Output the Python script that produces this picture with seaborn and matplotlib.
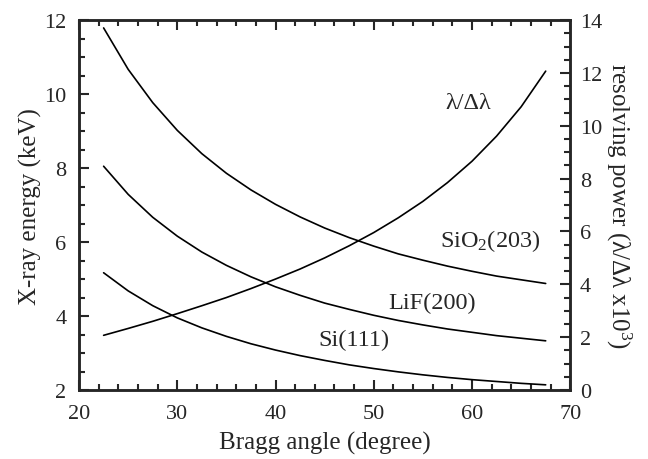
"""
Energia de raios X e poder de resolução em função do ângulo de Bragg.
"""

import matplotlib
matplotlib.use("Agg")
import matplotlib.pyplot as plt
from matplotlib.ticker import MultipleLocator
import pandas as pd
import seaborn as sns

# ângulos de Bragg (graus)
angulos = [22.5, 25, 27.5, 30, 32.5, 35, 37.5, 40, 42.5, 45, 47.5,
           50, 52.5, 55, 57.5, 60, 62.5, 65, 67.5]

# energia (keV)
si_111 = [5.17, 4.68, 4.28, 3.95, 3.68, 3.45, 3.25, 3.08, 2.93, 2.80, 2.68,
          2.58, 2.49, 2.41, 2.34, 2.28, 2.23, 2.18, 2.14]
lif_200 = [8.05, 7.29, 6.67, 6.16, 5.73, 5.37, 5.06, 4.79, 4.56, 4.35, 4.18,
           4.02, 3.88, 3.76, 3.65, 3.56, 3.47, 3.40, 3.33]
sio2_203 = [11.79, 10.67, 9.77, 9.02, 8.39, 7.86, 7.41, 7.02, 6.68, 6.38, 6.12,
            5.89, 5.68, 5.51, 5.35, 5.21, 5.08, 4.98, 4.88]

# poder de resolução (x10^3)
resolucao = [2.07, 2.33, 2.60, 2.89, 3.19, 3.50, 3.84, 4.20, 4.58, 5.00, 5.46,
             5.96, 6.52, 7.14, 7.85, 8.66, 9.61, 10.72, 12.07]

sns.set_style("ticks")
plt.rcParams['font.family'] = ['Liberation Serif', 'DejaVu Serif']
plt.rcParams['mathtext.fontset'] = 'custom'
plt.rcParams['mathtext.rm'] = 'Liberation Serif'
plt.rcParams['mathtext.it'] = 'Liberation Serif:italic'

df = pd.DataFrame({'angulo': angulos, 'si': si_111, 'lif': lif_200,
                   'sio2': sio2_203, 'res': resolucao})

fig = plt.figure(figsize=(6.48, 4.60), dpi=100)
ax = fig.add_axes([0.122, 0.15, 0.758, 0.804])
ax2 = ax.twinx()

for col in ['si', 'lif', 'sio2']:
    sns.lineplot(data=df, x='angulo', y=col, ax=ax, color='black', linewidth=1.2)
sns.lineplot(data=df, x='angulo', y='res', ax=ax2, color='black', linewidth=1.2)

ax.set_xlim(20, 70)
ax.set_ylim(2, 12)
ax2.set_ylim(0, 14)

ax.xaxis.set_major_locator(MultipleLocator(10))
ax.xaxis.set_minor_locator(MultipleLocator(2))
ax.yaxis.set_major_locator(MultipleLocator(2))
ax.yaxis.set_minor_locator(MultipleLocator(0.5))
ax2.yaxis.set_major_locator(MultipleLocator(2))
ax2.yaxis.set_minor_locator(MultipleLocator(0.5))

ax.tick_params(which='both', direction='in', top=True, width=1.5, labelsize=16)
ax.tick_params(which='major', length=7)
ax.tick_params(which='minor', length=4)
ax.tick_params(axis='x', pad=10)
ax.tick_params(axis='y', right=False, pad=9)
ax2.tick_params(which='both', direction='in', width=1.5, labelsize=16, pad=7)
ax2.tick_params(which='major', length=7)
ax2.tick_params(which='minor', length=4)

for a in (ax, ax2):
    for s in a.spines.values():
        s.set_linewidth(1.8)
        s.set_visible(True)

ax.set_xlabel('Bragg angle (degree)', fontsize=18, labelpad=6)
ax.set_ylabel('X-ray energy (keV)', fontsize=18, labelpad=2)
ax2.set_ylabel(r'resolving power (λ/Δλ x10$^3$)', fontsize=18,
               rotation=-90, labelpad=22)

ax.text(59.6, 9.78, 'λ/Δλ', fontsize=17.5, ha='center', va='center')
ax.text(61.85, 6.05, r'SiO$_2$(203)', fontsize=17.5, ha='center', va='center')
ax.text(55.9, 4.38, 'LiF(200)', fontsize=17.5, ha='center', va='center')
ax.text(48.0, 3.38, 'Si(111)', fontsize=17.5, ha='center', va='center')

fig.savefig('out.png', dpi=100)
plt.close(fig)
